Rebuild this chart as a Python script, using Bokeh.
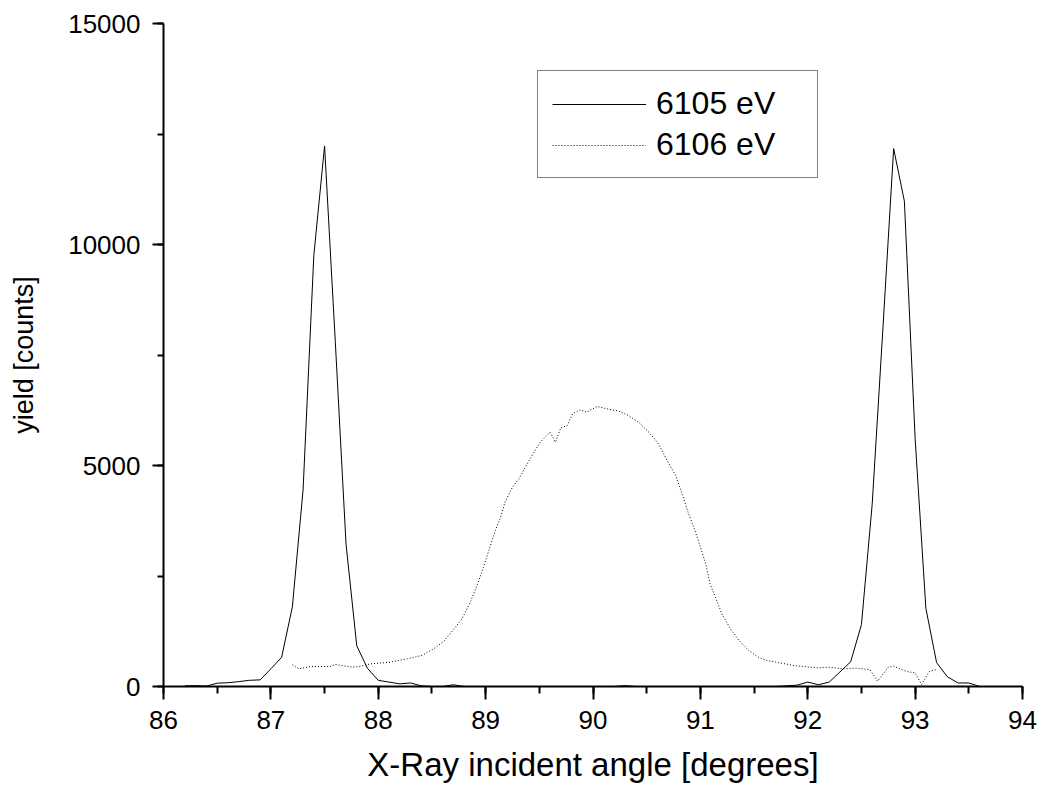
from bokeh.plotting import figure
from bokeh.models import Range1d, SingleIntervalTicker, Legend, LegendItem
from bokeh.embed import file_html
from bokeh.resources import INLINE

# ---- data ----
angle_6105 = [86.2, 86.3, 86.4, 86.5, 86.6, 86.7, 86.8, 86.9, 87.0, 87.1,
              87.2, 87.3, 87.4, 87.5, 87.6, 87.7, 87.8, 87.9, 88.0, 88.1,
              88.2, 88.3, 88.4, 88.5, 88.6, 88.7, 88.8, 88.9, 89.0, 89.1,
              89.2, 89.3, 89.4, 89.5, 89.6, 89.7, 89.8, 89.9, 90.0, 90.1,
              90.2, 90.3, 90.4, 90.5, 90.6, 90.7, 90.8, 90.9, 91.0, 91.1,
              91.2, 91.3, 91.4, 91.5, 91.6, 91.7, 91.8, 91.9, 92.0, 92.1,
              92.2, 92.3, 92.4, 92.5, 92.6, 92.7, 92.8, 92.9, 93.0, 93.1,
              93.2, 93.3, 93.4, 93.5, 93.6]
yield_6105 = [15, 20, 10, 75, 85, 110, 140, 150, 400, 660,
              1800, 4450, 9750, 12230, 7800, 3220, 920, 410, 140, 100,
              60, 80, 15, 0, 0, 40, 0, 0, 0, 0,
              0, 0, 0, 0, 0, 0, 0, 0, 0, 0,
              0, 20, 0, 0, 0, 0, 0, 0, 0, 0,
              0, 0, 0, 0, 0, 0, 15, 30, 100, 40,
              100, 330, 560, 1400, 4120, 8100, 12170, 10980, 5610, 1770,
              540, 220, 80, 80, 0]

angle_6106 = [87.20, 87.26, 87.37, 87.55, 87.60, 87.76, 87.82, 87.93, 88.11, 88.21,
              88.27, 88.41, 88.52, 88.61, 88.70, 88.78, 88.86, 88.92, 88.98, 89.03,
              89.09, 89.14, 89.18, 89.25, 89.31, 89.37, 89.45, 89.51, 89.60, 89.65,
              89.70, 89.76, 89.81, 89.88, 89.94, 90.04, 90.13, 90.24, 90.33, 90.43,
              90.52, 90.60, 90.69, 90.77, 90.83, 90.89, 90.95, 91.00, 91.05, 91.09,
              91.14, 91.20, 91.28, 91.36, 91.45, 91.54, 91.62, 91.73, 91.87, 92.09,
              92.21, 92.32, 92.46, 92.58, 92.65, 92.75, 92.80, 92.92, 93.00, 93.06,
              93.13, 93.20]
yield_6106 = [491, 400, 452, 452, 498, 437, 452, 513, 550, 600,
              626, 705, 860, 1020, 1285, 1531, 1925, 2285, 2700, 3077,
              3529, 3831, 4170, 4510, 4698, 4962, 5301, 5528, 5754, 5528,
              5852, 5905, 6170, 6260, 6207, 6335, 6282, 6230, 6131, 5965,
              5754, 5528, 5113, 4774, 4359, 3907, 3529, 3152, 2775, 2323,
              2021, 1644, 1305, 1041, 814, 663, 588, 540, 475, 422,
              437, 400, 415, 377, 121, 437, 460, 339, 309, 45,
              339, 385]

series_labels = ["6105 eV", "6106 eV"]
x_title = "X-Ray incident angle [degrees]"
y_title = "yield [counts]"

FONT = "Liberation Sans"

p = figure(width=1040, height=787, output_backend="svg", toolbar_location=None,
           x_range=Range1d(86, 94), y_range=Range1d(0, 15000),
           min_border_left=163, min_border_right=18, min_border_top=23,
           min_border_bottom=101)
p.outline_line_color = None
p.xgrid.visible = False
p.ygrid.visible = False
p.background_fill_color = "white"
p.border_fill_color = "white"

xa = p.xaxis[0]
xa.ticker = SingleIntervalTicker(interval=1, num_minor_ticks=2)
xa.axis_line_width = 2
xa.major_tick_line_width = 2
xa.minor_tick_line_width = 2
xa.major_tick_in = 0
xa.major_tick_out = 13
xa.minor_tick_in = 0
xa.minor_tick_out = 7
xa.major_label_standoff = 11
xa.major_label_text_font = FONT
xa.major_label_text_font_size = "26px"
xa.major_label_text_color = "black"
xa.axis_label = x_title
xa.axis_label_text_font = FONT
xa.axis_label_text_font_size = "33px"
xa.axis_label_text_font_style = "normal"
xa.axis_label_text_color = "black"
xa.axis_label_standoff = 14

ya = p.yaxis[0]
ya.ticker = SingleIntervalTicker(interval=5000, num_minor_ticks=2)
ya.axis_line_width = 2
ya.major_tick_line_width = 2
ya.minor_tick_line_width = 2
ya.major_tick_in = 0
ya.major_tick_out = 11
ya.minor_tick_in = 0
ya.minor_tick_out = 6
ya.major_label_standoff = 12
ya.major_label_text_font = FONT
ya.major_label_text_font_size = "26px"
ya.major_label_text_color = "black"
ya.axis_label = y_title
ya.axis_label_text_font = FONT
ya.axis_label_text_font_size = "27px"
ya.axis_label_text_font_style = "normal"
ya.axis_label_text_color = "black"
ya.axis_label_standoff = 26

r1 = p.line(angle_6105, yield_6105, line_color="black", line_width=1)
r2 = p.line(angle_6106, yield_6106, line_color="black", line_width=1, line_dash="1 2")

legend = Legend(items=[LegendItem(label=series_labels[0], renderers=[r1]),
                       LegendItem(label=series_labels[1], renderers=[r2])],
                location=(374, 508), margin=0, padding=14, spacing=4,
                glyph_width=94, glyph_height=36, label_height=36,
                label_width=147, label_standoff=10,
                label_text_font=FONT, label_text_font_size="32px",
                label_text_color="black",
                border_line_color="black", border_line_width=1,
                background_fill_color="white", background_fill_alpha=1)
p.add_layout(legend)

open("out.html", "w").write(file_html(p, INLINE))
